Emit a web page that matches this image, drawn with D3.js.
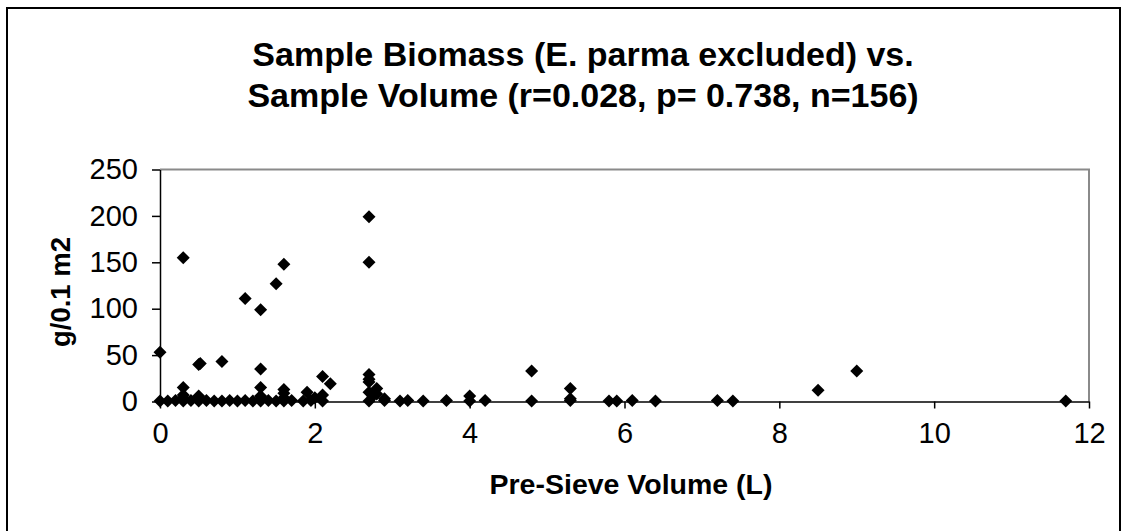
<!DOCTYPE html>
<html>
<head>
<meta charset="utf-8">
<script src="https://cdn.jsdelivr.net/npm/d3@7"></script>
<style>
  html, body { margin: 0; padding: 0; background: #fff; }
  svg { display: block; font-family: "Liberation Sans", Arial, sans-serif; }
</style>
</head>
<body>
<svg id="chart" width="1128" height="531"></svg>
<script>
// Pre-sieve sample volume (L) and sample biomass (g/0.1 m2) per sample
const volume = [
  2.7, 2.7, 0.3, 1.6, 1.5, 1.1, 1.3, 0.0, 0.5, 0.52, 0.8, 1.3,
  2.1, 2.2, 2.7, 2.7, 2.7, 2.8, 2.7, 2.9, 0.3, 1.3, 1.6, 1.6,
  1.9, 2.1, 2.0, 0.3, 0.3, 0.5, 0.5, 1.3, 1.3, 1.6, 2.75, 2.8,
  4.8, 5.3, 4.0, 8.5, 9.0, 5.3,
  0.0, 0.1, 0.2, 0.3, 0.4, 0.5, 0.6, 0.7, 0.8, 0.9, 1.0, 1.1,
  1.2, 1.3, 1.4, 1.5, 1.6, 1.7, 1.85, 1.95, 2.1, 2.7, 2.9, 3.1,
  3.2, 3.4, 3.7, 4.0, 4.2, 4.8, 5.3, 5.8, 5.9, 6.1, 6.4, 7.2,
  7.4, 11.7
];
const biomass = [
  199, 150, 155, 148, 127, 111, 99, 53, 40, 41, 43, 35,
  27, 19, 29, 24, 21, 14, 10, 3, 15, 15, 13, 9,
  10, 7, 4, 7, 4, 6, 3, 6, 3, 4, 6, 8,
  33, 14, 6, 12, 33, 3,
  0.5, 0.5, 1, 0.5, 1, 0.5, 1, 0.5, 0.5, 1, 0.5, 1,
  0.5, 0.5, 1, 0.5, 0.5, 1, 0.5, 1, 0.5, 0.5, 1, 0.5,
  1, 0.5, 1, 0.5, 1, 0.5, 1, 0.5, 0.5, 1, 0.5, 1,
  0.5, 0.5
];
const xTicks = [0, 2, 4, 6, 8, 10, 12];
const yTicks = [0, 50, 100, 150, 200, 250];
const titleLines = [
  "Sample Biomass (E. parma excluded) vs.",
  "Sample Volume (r=0.028, p= 0.738, n=156)"
];
const xTitle = "Pre-Sieve Volume (L)";
const yTitle = "g/0.1 m2";

const points = volume.map((v, i) => ({ v, b: biomass[i] }));

const svg = d3.select("#chart");

// chart area border
svg.append("rect")
  .attr("x", 7).attr("y", 8)
  .attr("width", 1113).attr("height", 540)
  .attr("fill", "#fff").attr("stroke", "#000").attr("stroke-width", 2);

const plot = { left: 160, right: 1089, top: 169.5, bottom: 401.5 };

const x = d3.scaleLinear().domain([0, 12]).range([plot.left, plot.right]);
const y = d3.scaleLinear().domain([0, 250]).range([plot.bottom, plot.top]);

// plot frame: grey top and right edges
svg.append("path")
  .attr("d", `M${plot.left},${plot.top}H${plot.right}V${plot.bottom}`)
  .attr("fill", "none").attr("stroke", "#8a8a8a").attr("stroke-width", 2);

const tickFont = 29;

// y axis
const yAxis = svg.append("g")
  .attr("transform", `translate(${plot.left},0)`)
  .call(d3.axisLeft(y).tickValues(yTicks).tickSize(8).tickPadding(14).tickSizeOuter(0));
yAxis.select(".domain").attr("stroke", "#000").attr("stroke-width", 1.5);
yAxis.selectAll(".tick line").attr("stroke", "#000").attr("stroke-width", 1.5);
yAxis.selectAll(".tick text")
  .attr("font-size", tickFont).attr("fill", "#000")
  .attr("font-family", "Liberation Sans, Arial, sans-serif");

// x axis
const xAxis = svg.append("g")
  .attr("transform", `translate(0,${plot.bottom})`)
  .call(d3.axisBottom(x).tickValues(xTicks).tickSize(7).tickPadding(14).tickSizeOuter(0));
xAxis.select(".domain").attr("stroke", "#000").attr("stroke-width", 1.5);
xAxis.selectAll(".tick line").attr("stroke", "#000").attr("stroke-width", 1.5);
xAxis.selectAll(".tick text")
  .attr("font-size", tickFont).attr("fill", "#000")
  .attr("font-family", "Liberation Sans, Arial, sans-serif");

// diamond markers
const r = 6.5;
svg.append("g")
  .selectAll("path")
  .data(points)
  .join("path")
  .attr("transform", d => `translate(${x(d.v)},${y(d.b)})`)
  .attr("d", `M0,${-r}L${r},0L0,${r}L${-r},0Z`)
  .attr("fill", "#000");

// title
svg.append("g")
  .selectAll("text")
  .data(titleLines)
  .join("text")
  .attr("x", 583)
  .attr("y", (d, i) => 66 + i * 41)
  .attr("text-anchor", "middle")
  .attr("font-size", 34)
  .attr("font-weight", "bold")
  .attr("fill", "#000")
  .text(d => d);

// axis titles
svg.append("text")
  .attr("x", 631).attr("y", 494)
  .attr("text-anchor", "middle")
  .attr("font-size", 28.5).attr("font-weight", "bold")
  .text(xTitle);

svg.append("text")
  .attr("transform", `translate(70,292) rotate(-90)`)
  .attr("text-anchor", "middle")
  .attr("font-size", 27.5).attr("font-weight", "bold")
  .text(yTitle);
</script>
</body>
</html>
